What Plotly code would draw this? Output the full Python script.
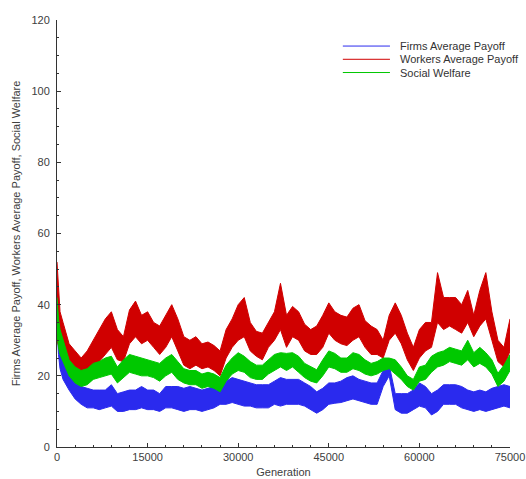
import plotly.graph_objects as go

# generation sample positions
generations = [0, 250, 500] + list(range(1000, 75001, 1000))

# values: lower / upper edge of each noisy band
firms_lo = [34, 26, 22, 19, 16, 13.5, 12, 11, 11, 10.5, 11, 11.5, 10, 10, 10.5, 10.5, 11, 10.5, 10.5, 10, 11, 11,
            10.5, 10, 10.5, 10.5, 10, 10.5, 11, 12, 12, 12.5, 12, 11.5, 11.5, 11, 11, 11, 12, 11.5, 12, 12, 12, 11.5,
            10.5, 9.5, 10.5, 12, 12.3, 12.5, 13, 13.5, 13, 12.5, 12, 12, 17, 20, 10.5, 9.5, 9.5, 10.5, 11.5, 11, 9,
            10, 12, 12, 12, 11, 10.5, 10, 10.5, 10, 10.5, 11, 11.5, 11]
firms_hi = [46, 38, 30, 26, 21, 19, 17, 16.5, 16, 16, 16, 17.5, 15, 15.5, 16, 16, 17, 16, 16, 15, 17, 17,
            17, 16.5, 17, 16.5, 16, 16.5, 17, 19, 18.5, 19.5, 19, 18.5, 18, 17.5, 17.5, 17.5, 18.5, 19.5, 19, 19, 19,
            18, 17, 15.5, 16.5, 18, 18, 18.5, 19.5, 20, 19, 18.5, 18, 18, 21.5, 23, 15, 15, 15, 16, 18, 17, 15,
            16, 17.5, 17.5, 17.5, 17, 16, 15.5, 16, 15.5, 16.5, 17, 17.5, 17]

workers_lo = [30, 28, 27, 27, 23.5, 21, 19, 20, 22, 24, 26, 28, 24.5, 24, 29, 31, 29, 30, 28, 26, 28, 31,
              27, 23, 22, 23, 22, 22.5, 21.5, 20, 25, 28, 30, 31, 27, 25.5, 24.5, 28, 30, 33, 28, 31, 30, 27,
              26, 26, 28, 32, 30, 29, 28.5, 30, 31, 28, 26, 26, 25, 30, 32, 29, 24.5, 21.5, 25, 27, 28, 35,
              33, 34, 33, 32, 35, 31, 34, 36, 30, 24, 22.5, 27]
workers_hi = [52, 45, 38, 35, 29, 27, 25, 27, 30, 33, 36, 38, 33, 31, 38.5, 41, 37, 38, 35, 34, 37, 40,
              36, 31, 30, 31, 29, 29.5, 28.5, 27, 33, 36, 40, 42, 35, 32.5, 32, 35, 38, 46, 37, 39.5, 38, 34.5,
              33, 34, 37, 40.5, 38, 37, 36.5, 39, 40, 35.5, 34, 33, 30, 37, 40.5, 37, 32, 28, 33, 35, 35, 49,
              42, 42, 42, 40, 44, 37, 44, 49, 38, 30, 28, 36]

welfare_lo = [32, 28, 26, 24, 20, 18, 17, 17.5, 19, 19.5, 20, 20.5, 18, 19.5, 21, 20.5, 20, 20, 19.5, 18.5, 20, 21,
              19, 18, 17.5, 17.5, 16.5, 17, 16.5, 15.5, 18.5, 20.5, 21.5, 21, 19.5, 19, 19, 20.5, 21.5, 22.5, 21.5,
              22.5, 21, 19.5, 18.5, 18, 20, 22.5, 22, 21, 21, 22, 21.5, 20.5, 20, 20.5, 21.5, 22, 20.5, 19, 17, 16,
              18.5, 19, 21, 22.5, 23, 24, 23.5, 23, 24.5, 22.5, 23.5, 22.5, 20.5, 17, 18.5, 21.5]
welfare_hi = [42, 36, 33, 30, 24.5, 22.5, 21.5, 22, 23.5, 24, 25, 25.5, 22.5, 24.5, 26, 25.5, 25, 24.5, 24, 23.5, 25, 26,
              24, 22, 21.5, 21.5, 20.5, 21, 20.5, 19.5, 23, 25, 26.5, 25.5, 24, 23, 23, 24.5, 26, 26.5, 26.3,
              26.5, 25.5, 23.5, 22.5, 21.7, 24.5, 27, 26.3, 25, 25, 26.5, 26, 24.5, 23.5, 24, 25, 25, 24.5, 22.5, 20, 19,
              22.5, 23, 25.5, 26.5, 27, 28, 27.5, 27, 30, 26.5, 28, 26.5, 24.5, 20.7, 23, 26]

series_names = ["Firms Average Payoff", "Workers Average Payoff", "Social Welfare"]
series_lo = [firms_lo, workers_lo, welfare_lo]
series_hi = [firms_hi, workers_hi, welfare_hi]
series_colors = ["#2a2aee", "#d00000", "#00c800"]

fig = go.Figure()
for name, lo, hi, col in zip(series_names, series_lo, series_hi, series_colors):
    fig.add_trace(go.Scatter(x=generations, y=lo, mode="lines", name=name, legendgroup=name,
                             line=dict(color=col, width=1), showlegend=False))
    fig.add_trace(go.Scatter(x=generations, y=hi, mode="lines", name=name, legendgroup=name,
                             line=dict(color=col, width=1), fill="tonexty", fillcolor=col,
                             showlegend=False))

font = dict(family="Liberation Sans, Arial, sans-serif", size=11, color="#404040")

# hand-made legend (short row spacing as in the original)
shapes, annotations = [], []
legend_rows_y = [0.939, 0.908, 0.877]
for name, col, ly in zip(series_names, series_colors, legend_rows_y):
    shapes.append(dict(type="line", xref="paper", yref="paper", x0=0.631, x1=0.735, y0=ly, y1=ly,
                       line=dict(color=col, width=1)))
    annotations.append(dict(xref="paper", yref="paper", x=0.753, y=ly, xanchor="left", yanchor="middle",
                            text=name, showarrow=False,
                            font=dict(family="Liberation Sans, Arial, sans-serif", size=11, color="#333333")))

fig.update_layout(
    width=526, height=479,
    margin=dict(l=57, r=16, t=20, b=32),
    paper_bgcolor="white", plot_bgcolor="white",
    font=font,
    showlegend=False,
    shapes=shapes, annotations=annotations,
    xaxis=dict(range=[0, 75000], tickvals=[0, 15000, 30000, 45000, 60000, 75000],
               ticktext=["0", "15000", "30000", "45000", "60000", "75000"],
               showgrid=False, zeroline=False, showline=True, linecolor="#333333", linewidth=1,
               ticks="inside", ticklen=4, tickcolor="#333333", automargin=False,
               minor=dict(ticks="inside", ticklen=2, dtick=3000, tick0=0, tickcolor="#333333"),
               title=dict(text="Generation", standoff=6, font=font)),
    yaxis=dict(range=[0, 120], dtick=20, tick0=0,
               showgrid=False, zeroline=False, showline=True, linecolor="#333333", linewidth=1,
               ticks="inside", ticklen=4, tickcolor="#333333", ticklabelstandoff=4, automargin=False,
               minor=dict(ticks="inside", ticklen=2, dtick=5, tick0=0, tickcolor="#333333"),
               title=dict(text="Firms Average Payoff, Workers Average Payoff, Social Welfare",
                          standoff=8, font=font)),
)

fig.write_html("out.html")
